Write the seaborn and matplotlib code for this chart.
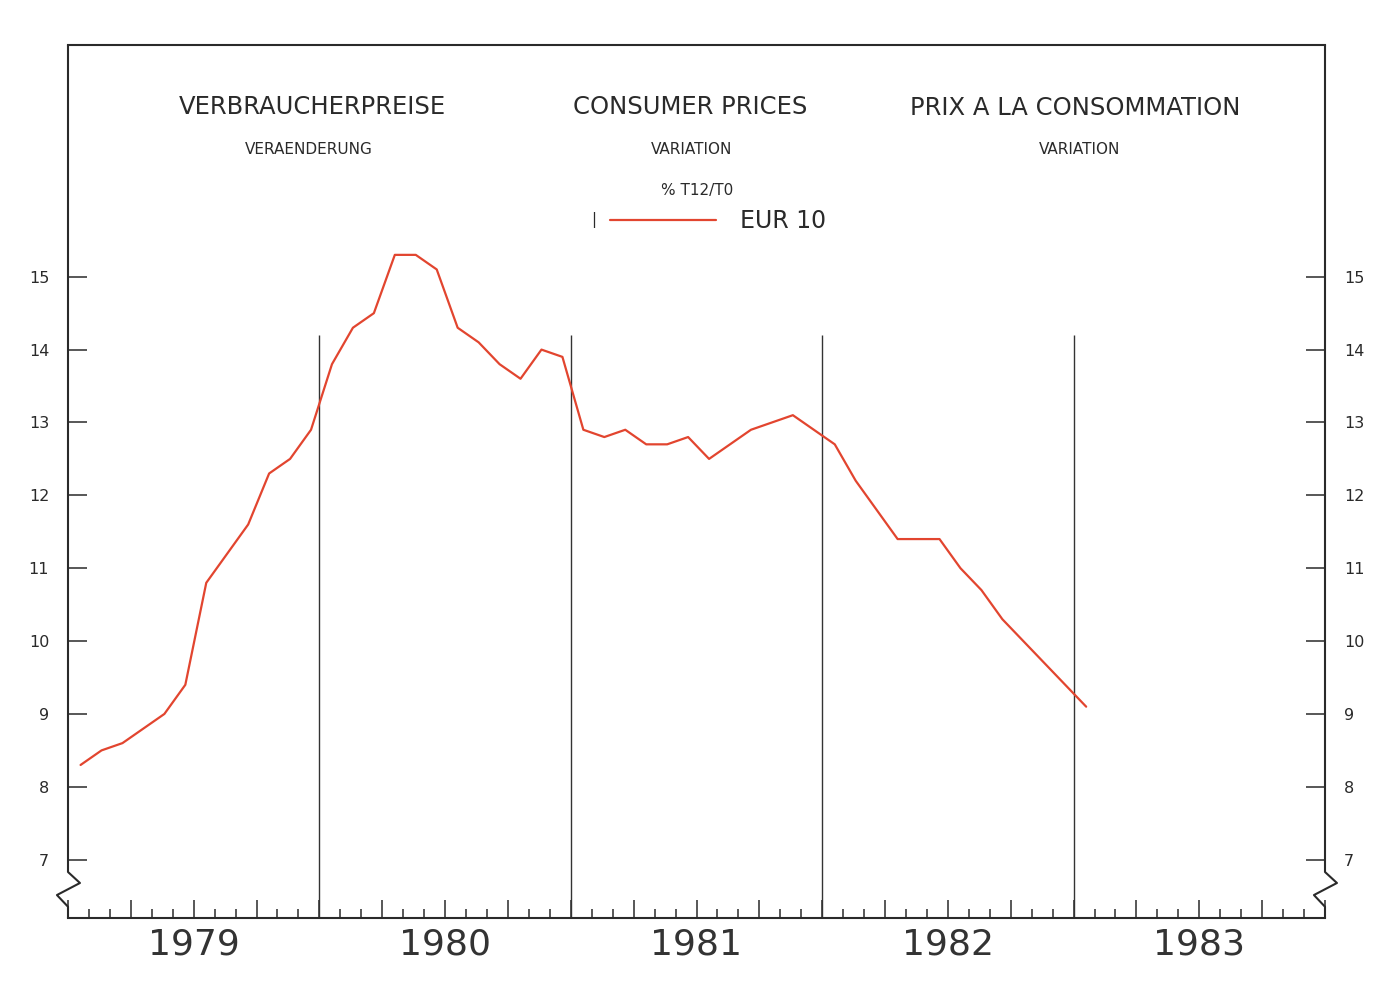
import matplotlib.pyplot as plt
import seaborn as sns
import pandas as pd
import numpy as np

# consumer prices EUR 10, % change T12/T0, monthly Jan 1979 - Jan 1983
years = [1979, 1980, 1981, 1982, 1983]
months = list(range(49))
eur10 = [8.3, 8.5, 8.6, 8.8, 9.0, 9.4, 10.8, 11.2, 11.6, 12.3, 12.5, 12.9,
         13.8, 14.3, 14.5, 15.3, 15.3, 15.1, 14.3, 14.1, 13.8, 13.6, 14.0, 13.9,
         12.9, 12.8, 12.9, 12.7, 12.7, 12.8, 12.5, 12.7, 12.9, 13.0, 13.1, 12.9,
         12.7, 12.2, 11.8, 11.4, 11.4, 11.4, 11.0, 10.7, 10.3, 10.0, 9.7, 9.4,
         9.1]
y_ticks = list(range(7, 16))

red = '#e2452f'
ink = '#2a2a2a'

sns.set_style("white")
plt.rcParams['font.family'] = ['DejaVu Sans']

fig = plt.figure(figsize=(13.93, 9.84), dpi=100)
ax = fig.add_axes([68 / 1393, 66 / 984, 1257 / 1393, 873 / 984])

df = pd.DataFrame({'t': 1979 + (np.array(months) + 0.6) / 12, 'v': eur10})
sns.lineplot(data=df, x='t', y='v', color=red, linewidth=1.6, ax=ax,
             label='EUR 10', zorder=3)

ax.set_xlim(1979, 1984)
ax.set_ylim(6.2, 18.18)
ax.vlines(years[1:], 6.2, 14.2, color='#333333', linewidth=1, zorder=2)

# ticks: quarters long, months short
ax.set_yticks(y_ticks)
ax.set_xticks(np.arange(1979, 1984.01, 0.25))
ax.set_xticks(np.arange(1979, 1984.01, 1 / 12), minor=True)
ax.tick_params(axis='x', which='major', direction='in', length=13, width=1.1,
               color=ink, bottom=True, labelbottom=False)
ax.tick_params(axis='x', which='minor', direction='in', length=6.5, width=1.1,
               color=ink, bottom=True)
ax.tick_params(axis='y', direction='in', length=13.7, width=1.1, left=True,
               right=True, labelleft=True, labelright=True, labelsize=11.5,
               pad=13.5, colors=ink)
ax.set_xlabel('')
ax.set_ylabel('')

for s in ['left', 'right']:
    ax.spines[s].set_visible(False)
for s in ['top', 'bottom']:
    ax.spines[s].set_linewidth(1.5)
    ax.spines[s].set_color(ink)

# side frame lines with the axis break
zy = [1, 0.0527, 0.0401, 0.0263, 0.0129, 0]
zx = [0, 0, 0.0095, -0.0088, 0, 0]
ax.plot(zx, zy, transform=ax.transAxes, clip_on=False, color=ink, lw=1.5)
ax.plot([1 + v for v in zx], zy, transform=ax.transAxes, clip_on=False,
        color=ink, lw=1.5)

for yr in years:
    ax.text(yr + 0.5, -0.03, str(yr), transform=ax.get_xaxis_transform(),
            ha='center', va='center', fontsize=26, color='#333333')

# titles
def ftext(px, py, s, size):
    fig.text(px / 1393, 1 - py / 984, s, ha='center', va='center',
             fontsize=size, color=ink)

ftext(312, 107, 'VERBRAUCHERPREISE', 17.5)
ftext(690, 107, 'CONSUMER PRICES', 17.5)
ftext(1075, 108, 'PRIX A LA CONSOMMATION', 17.5)
ftext(309, 149, 'VERAENDERUNG', 11)
ftext(692, 150, 'VARIATION', 11)
ftext(1080, 150, 'VARIATION', 11)
ftext(697, 191, '% T12/T0', 11)
ftext(594, 220, '|', 11)

ax.legend(loc='center left', bbox_to_anchor=(610 / 1393, 1 - 221 / 984),
          bbox_transform=fig.transFigure, frameon=False, fontsize=17,
          handlelength=4.5, handletextpad=1.0, borderpad=0, borderaxespad=0,
          labelcolor=ink)

fig.savefig('out.png', dpi=100)
